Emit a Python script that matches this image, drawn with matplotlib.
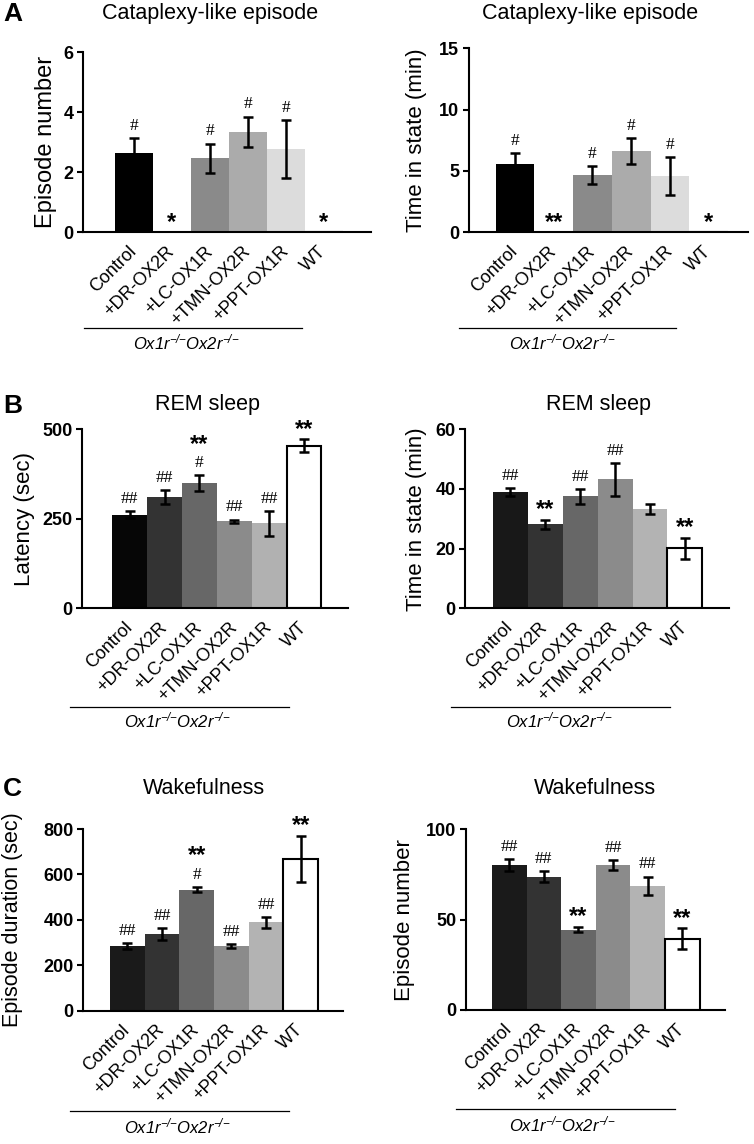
import matplotlib
matplotlib.use("Agg")
import matplotlib.pyplot as plt
from matplotlib.lines import Line2D
import numpy as np

plt.rcParams['font.family'] = ['Liberation Sans', 'DejaVu Sans']
plt.rcParams['mathtext.fontset'] = 'custom'
plt.rcParams['mathtext.rm'] = 'Liberation Sans:italic'
plt.rcParams['mathtext.it'] = 'Liberation Sans:italic'

groups = ["Control", "+DR-OX2R", "+LC-OX1R", "+TMN-OX2R", "+PPT-OX1R", "WT"]

# A: cataplexy-like episode
cat_num = [2.63, 0, 2.47, 3.35, 2.77, 0]
cat_num_err = [0.5, 0, 0.49, 0.51, 0.97, 0]
cat_time = [5.54, 0, 4.67, 6.63, 4.59, 0]
cat_time_err = [0.9, 0, 0.76, 1.05, 1.55, 0]

# B: REM sleep
rem_lat = [262, 311, 350, 243, 237, 454]
rem_lat_err = [10, 20, 21, 5, 34, 18]
rem_time = [39.1, 28.2, 37.5, 43.2, 33.4, 20.1]
rem_time_err = [1.3, 1.5, 2.4, 5.4, 1.7, 3.6]

# C: wakefulness
wake_dur = [285, 338, 533, 286, 389, 668]
wake_dur_err = [13, 25, 12, 8, 25, 102]
wake_num = [80.1, 73.8, 44.5, 80.1, 68.8, 39.5]
wake_num_err = [3.4, 2.9, 1.6, 2.7, 5.0, 5.7]

# significance marks (hash above error bar, stars above that)
hashA1 = ["#", "", "#", "#", "#", ""]
starA1 = ["", "*", "", "", "", "*"]
hashA2 = ["#", "", "#", "#", "#", ""]
starA2 = ["", "**", "", "", "", "*"]
hashB1 = ["##", "##", "#", "##", "##", ""]
starB1 = ["", "", "**", "", "", "**"]
hashB2 = ["##", "", "##", "##", "", ""]
starB2 = ["", "**", "", "", "", "**"]
hashC1 = ["##", "##", "#", "##", "##", ""]
starC1 = ["", "", "**", "", "", "**"]
hashC2 = ["##", "##", "", "##", "##", ""]
starC2 = ["", "", "**", "", "", "**"]

colorsA = ['#000000', '#000000', '#8a8a8a', '#ababab', '#dcdcdc', 'white']
colorsB1 = ['#060606', '#333333', '#676767', '#8b8b8b', '#b1b1b1', 'white']
colorsB2 = ['#181818', '#333333', '#676767', '#8b8b8b', '#b3b3b3', 'white']
colorsC = ['#1a1a1a', '#333333', '#676767', '#8b8b8b', '#b3b3b3', 'white']

W, H = 754, 1144
fig = plt.figure(figsize=(W / 100, H / 100), dpi=100)


def px_axes(l, r, t, b):
    return fig.add_axes([l / W, 1 - b / H, (r - l) / W, (b - t) / H])


def panel(box, xlim, vals, errs, colors, ylim, yticks, ylabel, title, title_xy,
          hashes, stars, bracket, geno_xy, ylab_x, ylab_size=16):
    ax = px_axes(*box)
    x = np.arange(len(groups))
    edges = ['black' if c == 'white' else c for c in colors]
    lws = [1.5 if c == 'white' else 0 for c in colors]
    ax.bar(x, vals, width=1.0, color=colors, edgecolor=edges, linewidth=lws, zorder=2)
    for xi, v, e in zip(x, vals, errs):
        if e > 0:
            ax.errorbar(xi, v, yerr=e, fmt='none', ecolor='black', elinewidth=1.8,
                        capsize=3.5, capthick=1.8, zorder=3)
    for xi, v, e, hs, st in zip(x, vals, errs, hashes, stars):
        off = -1
        if hs:
            ax.annotate(hs, xy=(xi, v + e), xytext=(0, 3), textcoords='offset points',
                        ha='center', va='bottom', fontsize=12.5, family='Liberation Serif')
            off = 14
        if st:
            ax.annotate(st, xy=(xi, v + e), xytext=(0, off), textcoords='offset points',
                        ha='center', va='bottom', fontsize=17, fontweight='bold')
    ax.set_xlim(*xlim)
    ax.set_ylim(*ylim)
    ax.set_yticks(yticks)
    ax.set_yticklabels([str(t) for t in yticks], fontweight='bold', fontsize=13)
    ax.set_xticks(x)
    ax.set_xticklabels(groups, rotation=45, ha='right', va='center',
                       rotation_mode='anchor', fontsize=13)
    ax.tick_params(axis='x', length=0, pad=12)
    ax.tick_params(axis='y', length=4, width=1.5, direction='out', pad=3)
    ax.spines['top'].set_visible(False)
    ax.spines['right'].set_visible(False)
    ax.spines['left'].set_linewidth(1.5)
    ax.spines['bottom'].set_linewidth(1.5)
    ax.set_ylabel(ylabel, fontsize=ylab_size)
    ax.yaxis.set_label_coords((ylab_x - box[0]) / (box[1] - box[0]), 0.5)
    fig.text(title_xy[0] / W, 1 - title_xy[1] / H, title, ha='center', va='center', fontsize=15.5)
    bx0, bx1, by = bracket
    fig.add_artist(Line2D([bx0 / W, bx1 / W], [1 - by / H, 1 - by / H], color='black', lw=0.9))
    fig.text(geno_xy[0] / W, 1 - geno_xy[1] / H, r'$Ox1r^{-\!/\!-}\!Ox2r^{-\!/\!-}$',
             ha='center', va='center', fontsize=12)
    return ax


panel((83, 371, 52.3, 232.3), (-1.34, 6.24), cat_num, cat_num_err, colorsA,
      (0, 6), [0, 2, 4, 6], "Episode number", "Cataplexy-like episode", (210, 14),
      hashA1, starA1, (84, 302, 328), (186, 342), 57, 17)
panel((468.7, 748, 48.3, 232.3), (-1.2, 6.02), cat_time, cat_time_err, colorsA,
      (0, 15), [0, 5, 10, 15], "Time in state (min)", "Cataplexy-like episode", (590, 14),
      hashA2, starA2, (459, 676, 328), (562, 342), 427)
panel((82.3, 348, 429.3, 608.3), (-1.36, 6.26), rem_lat, rem_lat_err, colorsB1,
      (0, 500), [0, 250, 500], "Latency (sec)", "REM sleep", (207, 405),
      hashB1, starB1, (70, 289, 706.7), (177, 720), 35)
panel((465.3, 728.7, 429.3, 608.3), (-1.28, 6.25), rem_time, rem_time_err, colorsB2,
      (0, 60), [0, 20, 40, 60], "Time in state (min)", "REM sleep", (599, 405),
      hashB2, starB2, (451, 670, 706.7), (559, 720), 427)
panel((83.3, 343.3, 829, 1010.7), (-1.27, 6.23), wake_dur, wake_dur_err, colorsC,
      (0, 800), [0, 200, 400, 600, 800], "Episode duration (sec)", "Wakefulness", (204, 788),
      hashC1, starC1, (70, 289, 1111), (177, 1126), 23, 15.5)
panel((466.3, 725.3, 829.3, 1010), (-1.24, 6.24), wake_num, wake_num_err, colorsC,
      (0, 100), [0, 50, 100], "Episode number", "Wakefulness", (595, 788),
      hashC2, starC2, (456, 675, 1109), (562, 1124), 415)

for letter, y in [("A", 14), ("B", 406), ("C", 789)]:
    fig.text(3 / W, 1 - y / H, letter, ha='left', va='center', fontsize=19, fontweight='bold')

fig.savefig("out.png", dpi=100)
